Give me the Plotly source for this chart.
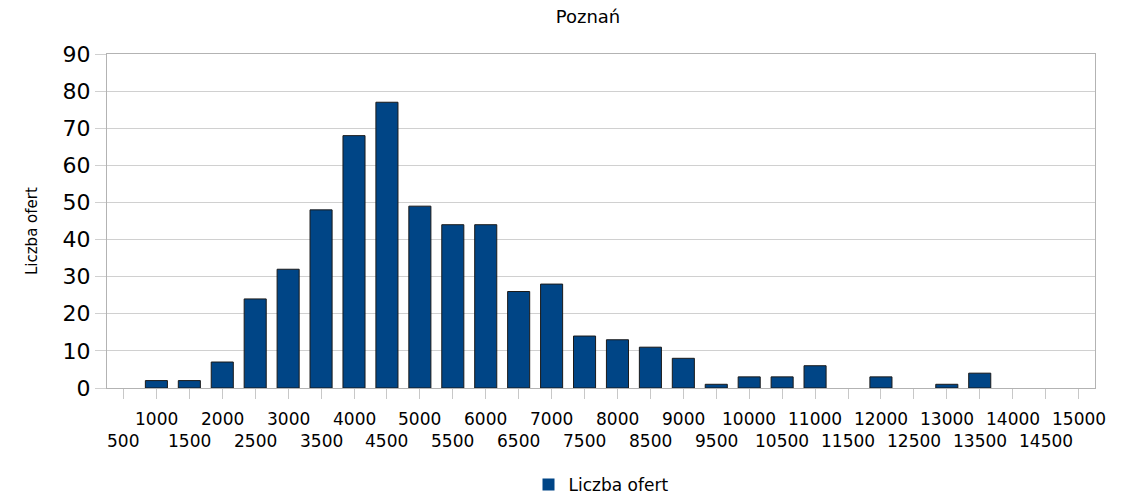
import plotly.graph_objects as go

categories = [str(v) for v in range(500, 15001, 500)]
values = [0, 2, 2, 7, 24, 32, 48, 68, 77, 49, 44, 44, 26, 28, 14, 13, 11, 8, 1, 3, 3, 6, 0, 3, 0, 1, 4, 0, 0, 0]
series_name = "Liczba ofert"
title_text = "Poznań"
y_ticks = list(range(0, 91, 10))

FONT = "DejaVu Sans"

fig = go.Figure()
fig.add_trace(go.Bar(
    x=categories, y=values, name=series_name,
    marker=dict(color="#004586",
                line=dict(color="#1a1a1a", width=[0 if v == 0 else 1 for v in values])),
))

annotations = []
for i, c in enumerate(categories):
    top_row = (i % 2 == 1)
    annotations.append(dict(
        x=i, xref="x", y=0, yref="paper", text=c, showarrow=False,
        yanchor="middle", xanchor="center",
        yshift=-31 if top_row else -53,
        font=dict(family=FONT, size=17, color="#000000"),
    ))
annotations.append(dict(
    x=-75 / 988, xref="paper", y=0.47, yref="paper", text=series_name,
    showarrow=False, textangle=-90, xanchor="center", yanchor="middle",
    font=dict(family=FONT, size=15, color="#000000"),
))

fig.update_layout(
    width=1137, height=498,
    margin=dict(l=107, r=42, t=54, b=110, autoexpand=False),
    paper_bgcolor="white", plot_bgcolor="white",
    title=dict(text=title_text, x=588 / 1137, xanchor="center", y=1 - 17 / 498, yanchor="middle",
               font=dict(family=FONT, size=18, color="#000000")),
    bargap=0.33,
    showlegend=True,
    legend=dict(orientation="h", x=0.5, xanchor="center", y=-0.29, yanchor="middle",
                font=dict(family=FONT, size=17, color="#000000")),
    annotations=annotations,
    xaxis=dict(type="category", showticklabels=False, ticks="outside", ticklen=10,
               tickcolor="#c8c8c8", tickwidth=1, showline=True, linecolor="#b3b3b3",
               mirror=True, showgrid=False, range=[-0.5, 29.5]),
    yaxis=dict(range=[0, 90], tickvals=y_ticks, ticks="outside", ticklen=11,
               tickcolor="#d0d0d0", showgrid=True, gridcolor="#d0d0d0", showline=True,
               linecolor="#b3b3b3", mirror=True, zeroline=False,
               tickfont=dict(family=FONT, size=22, color="#000000")),
)

fig.write_html("out.html", config={"displayModeBar": False},
               post_script="document.body.style.margin='0';")
